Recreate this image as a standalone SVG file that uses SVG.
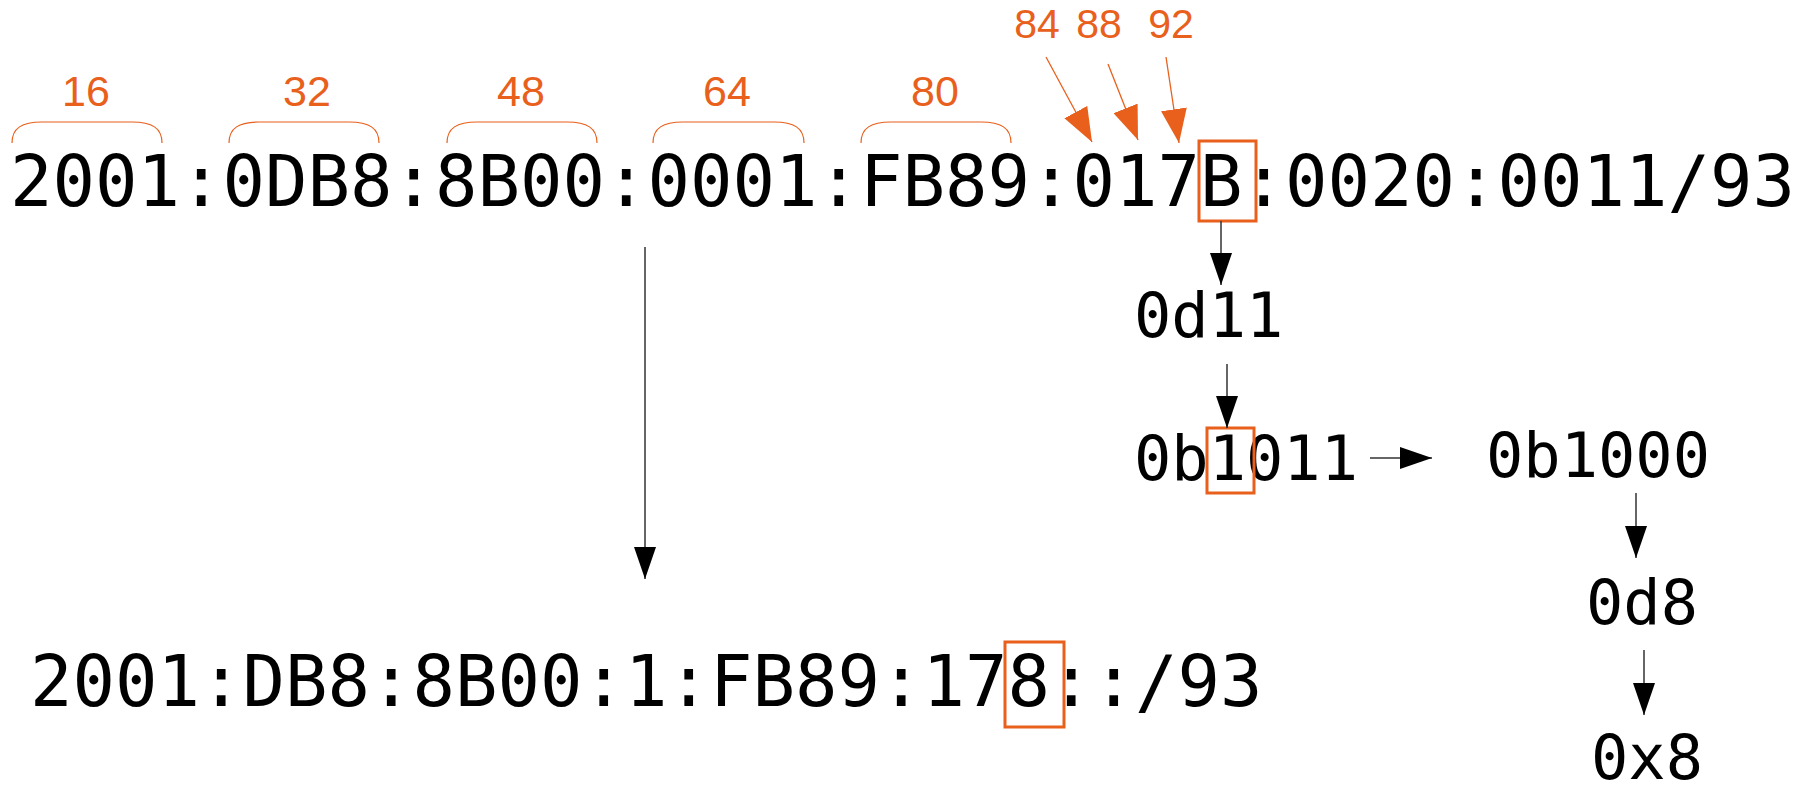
<svg xmlns="http://www.w3.org/2000/svg" width="1805" height="792" viewBox="0 0 1805 792">
<style>
.mono{font-family:"DejaVu Sans Mono","Liberation Mono",monospace;fill:#000}
.big{font-size:70.6px}
.mid{font-size:62px}
.lbl{font-family:"Liberation Sans",Arial,sans-serif;fill:#e8601c;text-anchor:middle}
.brk{fill:none;stroke:#e8601c;stroke-width:1.2}
.hl{fill:none;stroke:#e8601c;stroke-width:3}
.oarr{stroke:#e8601c;stroke-width:1.3;fill:none;marker-end:url(#oh)}
.barr{stroke:#333;stroke-width:1.5;fill:none;marker-end:url(#bh)}
</style>
<defs>
<marker id="oh" markerUnits="userSpaceOnUse" markerWidth="34" markerHeight="26" refX="34" refY="13" orient="auto"><path d="M0,0 L34,13 L0,26 z" fill="#e8601c"/></marker>
<marker id="bh" markerUnits="userSpaceOnUse" markerWidth="32" markerHeight="22" refX="32" refY="11" orient="auto"><path d="M0,0 L32,11 L0,22 z" fill="#000"/></marker>
</defs>
<rect width="1805" height="792" fill="#fff"/>
<g id="brackets">
<path class="brk" d="M12,143 C12,128 22,122 42,122 L132,122 C152,122 162,128 162,143"/>
<path class="brk" d="M229,143 C229,128 239,122 259,122 L349,122 C369,122 379,128 379,143"/>
<path class="brk" d="M447,143 C447,128 457,122 477,122 L567,122 C587,122 597,128 597,143"/>
<path class="brk" d="M653,143 C653,128 663,122 683,122 L774,122 C794,122 804,128 804,143"/>
<path class="brk" d="M861,143 C861,128 871,122 891,122 L981,122 C1001,122 1011,128 1011,143"/>
<text class="lbl" x="86" y="106" font-size="43">16</text>
<text class="lbl" x="307" y="106" font-size="43">32</text>
<text class="lbl" x="521" y="106" font-size="43">48</text>
<text class="lbl" x="727" y="106" font-size="43">64</text>
<text class="lbl" x="935" y="106" font-size="43">80</text>
<text class="lbl" x="1037" y="38" font-size="41">84</text>
<text class="lbl" x="1099" y="38" font-size="41">88</text>
<text class="lbl" x="1171" y="38" font-size="41">92</text>
</g>
<g id="address">
<text class="mono big" x="10" y="206">2001:0DB8:8B00:0001:FB89:017B:0020:0011/93</text>
<rect class="hl" x="1199" y="141" width="57" height="80"/>
</g>
<g id="compressed">
<text class="mono big" x="30" y="706">2001:DB8:8B00:1:FB89:178::/93</text>
<rect class="hl" x="1005" y="642" width="59" height="85"/>
</g>
<g id="n-0d11"><text class="mono mid" x="1134" y="337">0d11</text></g>
<g id="n-0b1011">
<text class="mono mid" x="1134" y="480">0b1011</text>
<rect class="hl" x="1207" y="428" width="47" height="65"/>
</g>
<g id="n-0b1000"><text class="mono mid" x="1486" y="477">0b1000</text></g>
<g id="n-0d8"><text class="mono mid" x="1586" y="624">0d8</text></g>
<g id="n-0x8"><text class="mono mid" x="1591" y="779">0x8</text></g>
<g id="connectors">
<line class="oarr" x1="1046" y1="57" x2="1092" y2="142"/>
<line class="oarr" x1="1108" y1="64" x2="1138" y2="140"/>
<line class="oarr" x1="1166" y1="57" x2="1179" y2="143"/>
<line class="barr" x1="645" y1="247" x2="645" y2="579"/>
<line class="barr" x1="1221" y1="221" x2="1221" y2="285"/>
<line class="barr" x1="1227" y1="364" x2="1227" y2="428"/>
<line class="barr" x1="1370" y1="458" x2="1432" y2="458"/>
<line class="barr" x1="1636" y1="493" x2="1636" y2="558"/>
<line class="barr" x1="1644" y1="650" x2="1644" y2="715"/>
</g>
</svg>
